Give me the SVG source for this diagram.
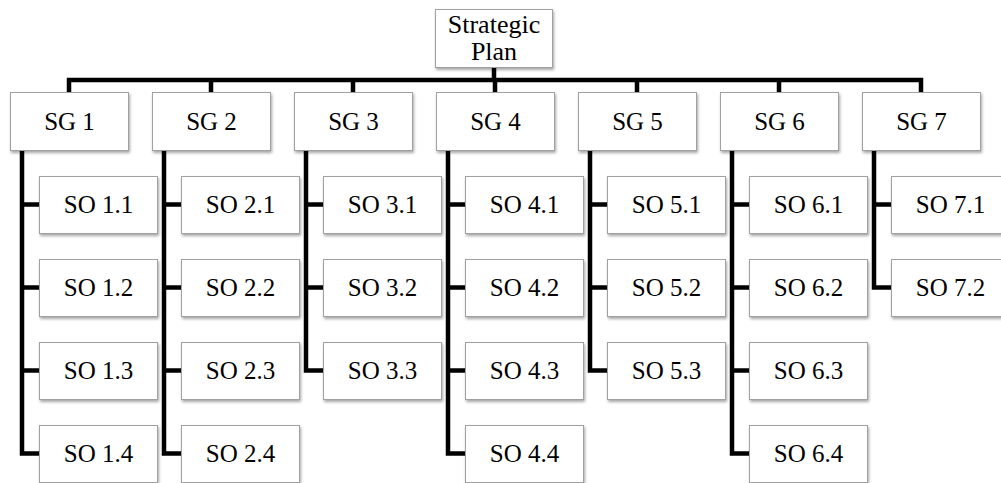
<svg xmlns="http://www.w3.org/2000/svg" width="1001" height="483" viewBox="0 0 1001 483">
<defs>
<filter id="sh" x="-10%" y="-10%" width="130%" height="140%">
<feDropShadow dx="1" dy="2" stdDeviation="1.5" flood-color="#000" flood-opacity="0.35"/>
</filter>
<style>
.b{fill:#fff;stroke:#a0a0a0;stroke-width:1;filter:url(#sh)}
.t{font-family:"Liberation Serif","DejaVu Serif",serif;font-size:25px;fill:#000;text-anchor:middle}
.p{font-size:26px}
.c{fill:none;stroke:#000;stroke-width:4.5;stroke-linejoin:miter;stroke-linecap:butt}
</style>
</defs>
<rect width="1001" height="483" fill="#fff"/>
<g id="connectors">
<path class="c" d="M494 67V80M69 92V80H921V92M211 80V92M353 80V92M495 80V92M637 80V92M779 80V92"/>
<path class="c" d="M22 150V453.5H39M22 204.5H39M22 287.5H39M22 370.5H39"/>
<path class="c" d="M164 150V453.5H181M164 204.5H181M164 287.5H181M164 370.5H181"/>
<path class="c" d="M306 150V370.5H323M306 204.5H323M306 287.5H323"/>
<path class="c" d="M448 150V453.5H465M448 204.5H465M448 287.5H465M448 370.5H465"/>
<path class="c" d="M590 150V370.5H607M590 204.5H607M590 287.5H607"/>
<path class="c" d="M732 150V453.5H749M732 204.5H749M732 287.5H749M732 370.5H749"/>
<path class="c" d="M874 150V287.5H891M874 204.5H891"/>
</g>
<g id="plan"><rect class="b" x="435.5" y="9.5" width="117" height="58"/><text class="t p" x="494" y="33">Strategic</text><text class="t p" x="494" y="60">Plan</text></g>
<g id="sg1"><rect class="b" x="10.5" y="92.5" width="118" height="58"/><text class="t" x="69.5" y="130">SG 1</text></g>
<g id="sg2"><rect class="b" x="152.5" y="92.5" width="118" height="58"/><text class="t" x="211.5" y="130">SG 2</text></g>
<g id="sg3"><rect class="b" x="294.5" y="92.5" width="118" height="58"/><text class="t" x="353.5" y="130">SG 3</text></g>
<g id="sg4"><rect class="b" x="436.5" y="92.5" width="118" height="58"/><text class="t" x="495.5" y="130">SG 4</text></g>
<g id="sg5"><rect class="b" x="578.5" y="92.5" width="118" height="58"/><text class="t" x="637.5" y="130">SG 5</text></g>
<g id="sg6"><rect class="b" x="720.5" y="92.5" width="118" height="58"/><text class="t" x="779.5" y="130">SG 6</text></g>
<g id="sg7"><rect class="b" x="862.5" y="92.5" width="118" height="58"/><text class="t" x="921.5" y="130">SG 7</text></g>
<g id="so11"><rect class="b" x="39.5" y="176.5" width="118" height="57"/><text class="t" x="98.5" y="213">SO 1.1</text></g>
<g id="so12"><rect class="b" x="39.5" y="259.5" width="118" height="57"/><text class="t" x="98.5" y="296">SO 1.2</text></g>
<g id="so13"><rect class="b" x="39.5" y="342.5" width="118" height="57"/><text class="t" x="98.5" y="379">SO 1.3</text></g>
<g id="so14"><rect class="b" x="39.5" y="425.5" width="118" height="57"/><text class="t" x="98.5" y="462">SO 1.4</text></g>
<g id="so21"><rect class="b" x="181.5" y="176.5" width="118" height="57"/><text class="t" x="240.5" y="213">SO 2.1</text></g>
<g id="so22"><rect class="b" x="181.5" y="259.5" width="118" height="57"/><text class="t" x="240.5" y="296">SO 2.2</text></g>
<g id="so23"><rect class="b" x="181.5" y="342.5" width="118" height="57"/><text class="t" x="240.5" y="379">SO 2.3</text></g>
<g id="so24"><rect class="b" x="181.5" y="425.5" width="118" height="57"/><text class="t" x="240.5" y="462">SO 2.4</text></g>
<g id="so31"><rect class="b" x="323.5" y="176.5" width="118" height="57"/><text class="t" x="382.5" y="213">SO 3.1</text></g>
<g id="so32"><rect class="b" x="323.5" y="259.5" width="118" height="57"/><text class="t" x="382.5" y="296">SO 3.2</text></g>
<g id="so33"><rect class="b" x="323.5" y="342.5" width="118" height="57"/><text class="t" x="382.5" y="379">SO 3.3</text></g>
<g id="so41"><rect class="b" x="465.5" y="176.5" width="118" height="57"/><text class="t" x="524.5" y="213">SO 4.1</text></g>
<g id="so42"><rect class="b" x="465.5" y="259.5" width="118" height="57"/><text class="t" x="524.5" y="296">SO 4.2</text></g>
<g id="so43"><rect class="b" x="465.5" y="342.5" width="118" height="57"/><text class="t" x="524.5" y="379">SO 4.3</text></g>
<g id="so44"><rect class="b" x="465.5" y="425.5" width="118" height="57"/><text class="t" x="524.5" y="462">SO 4.4</text></g>
<g id="so51"><rect class="b" x="607.5" y="176.5" width="118" height="57"/><text class="t" x="666.5" y="213">SO 5.1</text></g>
<g id="so52"><rect class="b" x="607.5" y="259.5" width="118" height="57"/><text class="t" x="666.5" y="296">SO 5.2</text></g>
<g id="so53"><rect class="b" x="607.5" y="342.5" width="118" height="57"/><text class="t" x="666.5" y="379">SO 5.3</text></g>
<g id="so61"><rect class="b" x="749.5" y="176.5" width="118" height="57"/><text class="t" x="808.5" y="213">SO 6.1</text></g>
<g id="so62"><rect class="b" x="749.5" y="259.5" width="118" height="57"/><text class="t" x="808.5" y="296">SO 6.2</text></g>
<g id="so63"><rect class="b" x="749.5" y="342.5" width="118" height="57"/><text class="t" x="808.5" y="379">SO 6.3</text></g>
<g id="so64"><rect class="b" x="749.5" y="425.5" width="118" height="57"/><text class="t" x="808.5" y="462">SO 6.4</text></g>
<g id="so71"><rect class="b" x="891.5" y="176.5" width="118" height="57"/><text class="t" x="950.5" y="213">SO 7.1</text></g>
<g id="so72"><rect class="b" x="891.5" y="259.5" width="118" height="57"/><text class="t" x="950.5" y="296">SO 7.2</text></g>
</svg>
